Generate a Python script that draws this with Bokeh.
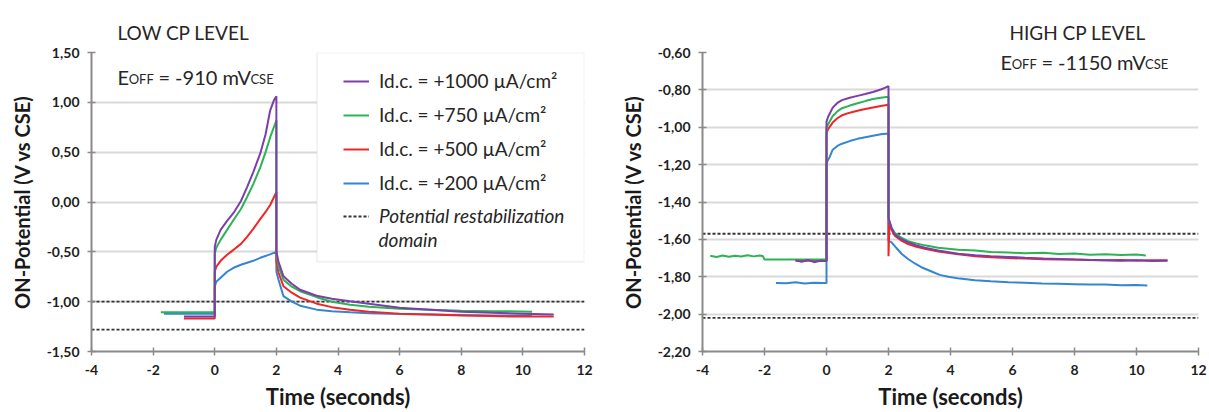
from bokeh.plotting import figure
from bokeh.models import (Range1d, FixedTicker, CustomJSTickFormatter, Label, Legend,
                          LegendItem, BoxAnnotation, ColumnDataSource)
from bokeh.layouts import row
from bokeh.embed import file_html
from bokeh.resources import INLINE

FONT = "Lato"

# ---------------- data ----------------
x_ticks = [-4, -2, 0, 2, 4, 6, 8, 10, 12]
low_y_ticks = [-1.5, -1.0, -0.5, 0.0, 0.5, 1.0, 1.5]
high_y_ticks = [-2.2, -2.0, -1.8, -1.6, -1.4, -1.2, -1.0, -0.8, -0.6]

series_labels = ["Id.c. = +1000 µA/cm²", "Id.c. = +750 µA/cm²",
                 "Id.c. = +500 µA/cm²", "Id.c. = +200 µA/cm²"]
series_colors = ["#7b3fab", "#2db256", "#ef2626", "#3585d3"]
restab_label = "Potential restabilization"
restab_label_2 = "domain"

low_title = "LOW CP LEVEL"
high_title = "HIGH CP LEVEL"
low_eoff = "= -910 mV"
high_eoff = "= -1150 mV"

low_restab = [-1.00, -1.28]
high_restab = [-1.57, -2.02]

# LOW CP level
low_t_1000 = [-1.0, -0.6, -0.3, 0.0, 0.0, 0.05, 0.19, 0.4, 0.61, 0.85, 1.05, 1.25, 1.48, 1.65,
              1.8, 1.92, 2.0, 2.0, 2.07, 2.23, 2.5, 2.77, 3.31, 3.8, 4.39, 5.0, 6.0, 7.0, 8.0,
              9.0, 10.0, 11.0]
low_v_1000 = [-1.15, -1.15, -1.15, -1.15, -0.45, -0.38, -0.28, -0.19, -0.11, 0.01, 0.15, 0.30,
              0.49, 0.68, 0.92, 1.02, 1.06, -0.50, -0.60, -0.745, -0.82, -0.88, -0.94, -0.97,
              -0.995, -1.02, -1.06, -1.08, -1.10, -1.11, -1.12, -1.13]

low_t_750 = [-1.75, -1.0, 0.0, 0.0, 0.05, 0.19, 0.4, 0.61, 0.85, 1.05, 1.25, 1.48, 1.65, 1.8,
             2.0, 2.0, 2.07, 2.23, 2.5, 2.77, 3.31, 3.8, 4.39, 5.0, 6.0, 7.0, 8.0, 9.0, 10.3]
low_v_750 = [-1.105, -1.105, -1.105, -0.52, -0.46, -0.38, -0.28, -0.18, -0.07, 0.05, 0.18,
             0.35, 0.50, 0.65, 0.82, -0.52, -0.645, -0.78, -0.85, -0.895, -0.955, -1.0, -1.03,
             -1.05, -1.07, -1.08, -1.09, -1.095, -1.10]

low_t_500 = [-1.0, 0.0, 0.0, 0.05, 0.19, 0.4, 0.61, 0.85, 1.05, 1.25, 1.48, 1.65, 1.8, 2.0,
             2.0, 2.07, 2.23, 2.5, 2.77, 3.31, 3.8, 4.39, 5.0, 6.0, 7.0, 8.0, 9.0, 10.0, 11.0]
low_v_500 = [-1.17, -1.17, -0.70, -0.65, -0.59, -0.53, -0.48, -0.42, -0.35, -0.27, -0.17,
             -0.10, -0.03, 0.10, -0.60, -0.71, -0.845, -0.91, -0.96, -1.02, -1.055, -1.08,
             -1.10, -1.12, -1.13, -1.14, -1.145, -1.15, -1.15]

low_t_200 = [-1.65, -1.0, 0.0, 0.0, 0.05, 0.19, 0.4, 0.61, 0.85, 1.05, 1.25, 1.48, 1.75, 2.0,
             2.0, 2.07, 2.23, 2.5, 2.77, 3.31, 3.8, 4.39, 5.0, 6.0, 7.0, 8.0, 9.0, 10.3]
low_v_200 = [-1.12, -1.12, -1.12, -0.85, -0.80, -0.76, -0.70, -0.66, -0.63, -0.61, -0.59,
             -0.56, -0.53, -0.50, -0.70, -0.78, -0.945, -1.00, -1.04, -1.08, -1.095, -1.105,
             -1.115, -1.125, -1.13, -1.135, -1.14, -1.14]

# HIGH CP level
high_t_1000 = [-1.0, -0.8, -0.6, -0.4, -0.2, 0.0, 0.0, 0.05, 0.2, 0.35, 0.5, 0.75, 1.0, 1.25,
               1.5, 1.75, 1.9, 2.0, 2.0, 2.1, 2.2, 2.4, 2.63, 2.9, 3.17, 3.6, 4.25, 4.8, 5.3,
               5.87, 6.4, 7.0, 7.5, 8.0, 8.5, 9.0, 9.5, 10.0, 10.5, 11.0]
high_v_1000 = [-1.712, -1.72, -1.71, -1.722, -1.714, -1.716, -0.97, -0.945, -0.895, -0.87,
               -0.855, -0.842, -0.832, -0.822, -0.811, -0.798, -0.788, -0.78, -1.486, -1.54,
               -1.573, -1.598, -1.616, -1.632, -1.645, -1.66, -1.677, -1.685, -1.69, -1.694,
               -1.698, -1.702, -1.705, -1.708, -1.71, -1.712, -1.714, -1.712, -1.716, -1.715]

high_t_750 = [-3.75, -3.55, -3.35, -3.15, -2.95, -2.75, -2.55, -2.35, -2.15, -2.05, -2.0, 0.0,
              0.0, 0.05, 0.2, 0.35, 0.5, 0.75, 1.0, 1.25, 1.5, 1.75, 2.0, 2.0, 2.1, 2.2, 2.4,
              2.63, 2.9, 3.17, 3.6, 4.25, 4.8, 5.3, 5.87, 6.4, 7.0, 7.5, 8.0, 8.5, 9.0, 9.5,
              10.0, 10.3]
high_v_750 = [-1.688, -1.694, -1.686, -1.693, -1.688, -1.692, -1.685, -1.691, -1.686, -1.69,
              -1.708, -1.708, -1.0, -0.985, -0.94, -0.915, -0.898, -0.884, -0.872, -0.86,
              -0.849, -0.842, -0.837, -1.49, -1.54, -1.565, -1.59, -1.61, -1.622, -1.632,
              -1.645, -1.655, -1.66, -1.668, -1.67, -1.674, -1.672, -1.678, -1.676, -1.682,
              -1.679, -1.684, -1.681, -1.686]

high_t_500 = [-1.0, -0.5, 0.0, 0.0, 0.05, 0.2, 0.35, 0.5, 0.75, 1.0, 1.25, 1.5, 1.75, 2.0,
              2.0, 2.03, 2.1, 2.2, 2.4, 2.63, 2.9, 3.17, 3.6, 4.25, 4.8, 5.3, 5.87, 6.4, 7.0,
              7.5, 8.0, 8.5, 9.0, 9.5, 10.0, 10.5, 11.0]
high_v_500 = [-1.715, -1.715, -1.715, -1.03, -1.01, -0.975, -0.952, -0.936, -0.922, -0.912,
              -0.902, -0.894, -0.886, -0.88, -1.69, -1.51, -1.55, -1.58, -1.605, -1.625,
              -1.64, -1.65, -1.665, -1.68, -1.69, -1.695, -1.70, -1.703, -1.706, -1.708,
              -1.708, -1.71, -1.712, -1.71, -1.713, -1.712, -1.712]

high_t_200 = [-1.63, -1.3, -1.0, -0.7, -0.4, -0.1, 0.0, 0.0, 0.03, 0.1, 0.2, 0.35, 0.5, 0.75,
              1.0, 1.25, 1.5, 1.75, 2.0, 2.0, 2.1, 2.25, 2.42, 2.63, 2.85, 3.1, 3.39, 3.65,
              3.93, 4.3, 4.79, 5.3, 5.87, 6.4, 6.95, 7.5, 8.0, 8.5, 9.0, 9.5, 10.0, 10.35]
high_v_200 = [-1.833, -1.835, -1.83, -1.836, -1.832, -1.834, -1.833, -1.20, -1.18, -1.16,
              -1.12, -1.10, -1.088, -1.074, -1.062, -1.053, -1.045, -1.038, -1.033, -1.608,
              -1.616, -1.645, -1.677, -1.705, -1.729, -1.752, -1.772, -1.79, -1.80, -1.81,
              -1.819, -1.824, -1.829, -1.832, -1.836, -1.838, -1.84, -1.842, -1.841, -1.845,
              -1.844, -1.847]

low_series = [(low_t_1000, low_v_1000), (low_t_750, low_v_750),
              (low_t_500, low_v_500), (low_t_200, low_v_200)]
high_series = [(high_t_1000, high_v_1000), (high_t_750, high_v_750),
               (high_t_500, high_v_500), (high_t_200, high_v_200)]

# ---------------- styling helpers ----------------
AX_COL = "#8a8a8a"
TXT = "#262626"

# approximate Lato advance widths (em) for composite label layout
_W = {'E': 0.56, 'O': 0.80, 'F': 0.55, 'C': 0.68, 'S': 0.52, ' ': 0.19, '=': 0.58,
      '-': 0.36, 'm': 0.86, 'V': 0.68}


def text_w(s, size):
    return sum(_W.get(ch, 0.58) for ch in s) * size


def make_fig(y_lo, y_hi, y_ticks, w, h, bl, br, bt, bb, title, title_offset):
    p = figure(width=w, height=h, output_backend="svg", toolbar_location=None,
               x_range=Range1d(-4, 12), y_range=Range1d(y_lo, y_hi),
               min_border_left=bl, min_border_right=br, min_border_top=bt,
               min_border_bottom=bb, title=title)
    p.title.align = "left"
    p.title.offset = title_offset
    p.title.standoff = 18
    p.title.text_font = FONT
    p.title.text_font_size = "19px"
    p.title.text_font_style = "normal"
    p.title.text_color = TXT
    p.outline_line_color = None
    p.background_fill_color = "white"
    p.border_fill_color = "white"
    p.xgrid.visible = False
    p.ygrid.grid_line_color = "#d9d9d9"
    p.ygrid.grid_line_width = 2
    p.xaxis.ticker = FixedTicker(ticks=x_ticks)
    p.yaxis.ticker = FixedTicker(ticks=y_ticks)
    p.ygrid.ticker = FixedTicker(ticks=y_ticks)
    p.xaxis.formatter = CustomJSTickFormatter(code="return tick.toFixed(0);")
    p.yaxis.formatter = CustomJSTickFormatter(
        code="return tick.toFixed(2).replace('.', ',');")
    for ax in (p.xaxis, p.yaxis):
        ax.axis_line_color = AX_COL
        ax.axis_line_width = 2
        ax.major_tick_line_color = AX_COL
        ax.major_tick_line_width = 1.5
        ax.major_tick_in = 4
        ax.major_tick_out = 4
        ax.minor_tick_line_color = None
        ax.major_label_text_font = FONT
        ax.major_label_text_font_style = "bold"
        ax.major_label_text_font_size = "14px"
        ax.major_label_text_color = "#1f1f1f"
        ax.axis_label_text_font = FONT
        ax.axis_label_text_font_style = "bold"
        ax.axis_label_text_color = "#1a1a1a"
    p.xaxis.major_label_standoff = 9
    p.yaxis.major_label_standoff = 8
    p.xaxis.axis_label = "Time (seconds)"
    p.xaxis.axis_label_text_font_size = "22px"
    p.xaxis.axis_label_standoff = 5
    p.yaxis.axis_label = "ON-Potential (V vs CSE)"
    p.yaxis.axis_label_text_font_size = "20px"
    p.yaxis.axis_label_standoff = 10
    return p


def add_restab(p, levels):
    src = ColumnDataSource(dict(x0=[-4] * len(levels), x1=[12] * len(levels),
                                y=levels))
    return p.segment(x0="x0", x1="x1", y0="y", y1="y", source=src,
                     line_color="#333333", line_width=1.8, line_dash="3 2")


def add_series(p, series):
    rends = [None] * len(series)
    for i in [3, 2, 1, 0]:
        t, v = series[i]
        rends[i] = p.line(t, v, line_color=series_colors[i], line_width=2)
    return rends


def add_eoff(p, value_text, x, y):
    big, small = 20, 13
    parts = [("E", big), ("OFF", small), (value_text, big), ("CSE", small)]
    cx = x
    for i, (s, sz) in enumerate(parts):
        if i == 2:
            cx += 5
        p.add_layout(Label(x=cx, y=y - 0.22 * sz, x_units="screen", y_units="screen",
                           text=s, text_font=FONT, text_font_size=f"{sz}px",
                           text_color=TXT, text_baseline="bottom", text_align="left"))
        cx += text_w(s, sz)


# ---------------- LOW CP figure ----------------
p1 = make_fig(-1.5, 1.5, low_y_ticks, 600, 412, 91, 16, 52, 61, low_title, 26)
r_low_restab = add_restab(p1, low_restab)
r_low = add_series(p1, low_series)

p1.add_layout(BoxAnnotation(left=3.32, right=12, top=1.5, bottom=-0.60,
                            fill_color="white", fill_alpha=1.0,
                            line_color="#d4d4d4", line_width=2))

leg_common = dict(border_line_color=None, background_fill_alpha=0.0,
                  padding=0, margin=0, glyph_width=26, glyph_height=22,
                  label_height=22, label_standoff=10, spacing=11,
                  label_text_font=FONT, label_text_font_size="19px",
                  label_text_color=TXT)
leg1 = Legend(items=[LegendItem(label=series_labels[i], renderers=[r_low[i]])
                     for i in range(4)],
              location=(252, 157), **leg_common)
p1.add_layout(leg1)
leg2 = Legend(items=[LegendItem(label=restab_label, renderers=[r_low_restab])],
              location=(252, 124), label_text_font_style="italic", **leg_common)
p1.add_layout(leg2)
p1.add_layout(Label(x=287, y=112, x_units="screen", y_units="screen", text=restab_label_2,
                    text_font=FONT, text_font_size="19px", text_font_style="italic",
                    text_color=TXT, text_baseline="middle", text_align="left"))

add_eoff(p1, low_eoff, 26, 267)

# ---------------- HIGH CP figure ----------------
p2 = make_fig(-2.2, -0.6, high_y_ticks, 609, 412, 102, 11, 43, 61, high_title, 307)
add_restab(p2, high_restab)
add_series(p2, high_series)
add_eoff(p2, high_eoff, 298, 282)

layout = row(p1, p2)
open("out.html", "w").write(file_html(layout, INLINE))
